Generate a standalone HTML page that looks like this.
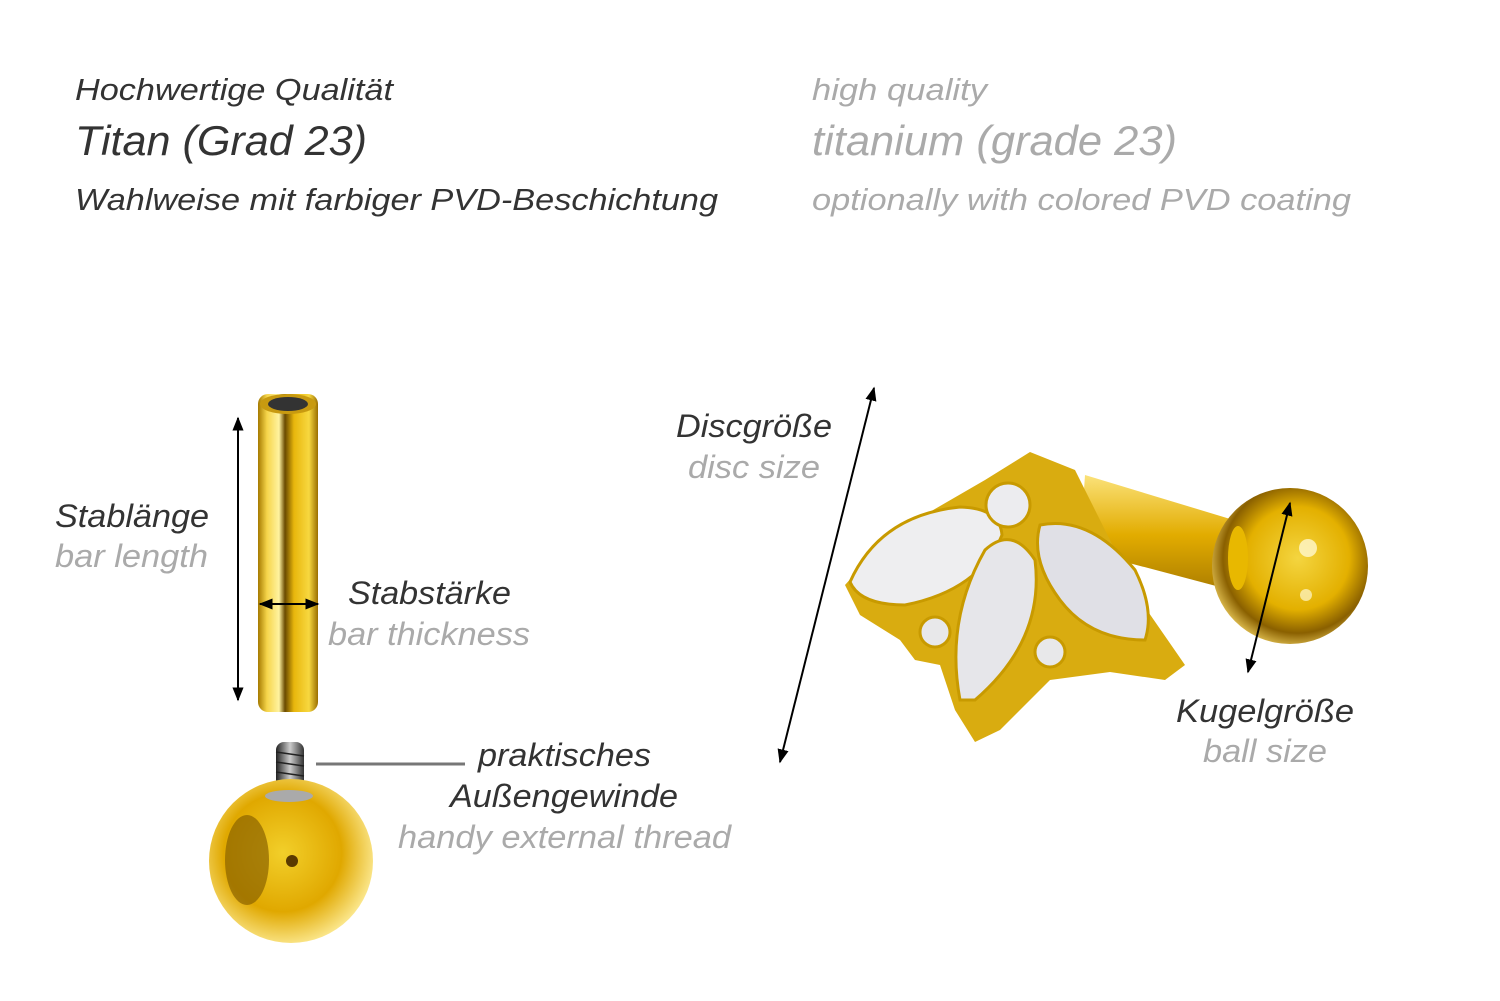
<!DOCTYPE html>
<html><head><meta charset="utf-8"><style>
html,body{margin:0;padding:0;background:#fff;}
svg{display:block;}
text{font-family:"Liberation Sans",sans-serif;font-style:italic;}
</style></head><body>
<svg width="1500" height="1001" viewBox="0 0 1500 1001" xmlns="http://www.w3.org/2000/svg">
<defs>
<linearGradient id="bar" x1="0" x2="1" y1="0" y2="0">
<stop offset="0" stop-color="#a57a00"/><stop offset="0.15" stop-color="#f6d54a"/><stop offset="0.35" stop-color="#fff3a0"/><stop offset="0.45" stop-color="#6a4a00"/><stop offset="0.6" stop-color="#e8b60c"/><stop offset="0.85" stop-color="#f7d840"/><stop offset="1" stop-color="#9a6e00"/>
</linearGradient>
<radialGradient id="ball" cx="0.45" cy="0.45" r="0.6">
<stop offset="0" stop-color="#f2cf2a"/><stop offset="0.6" stop-color="#e0a800"/><stop offset="1" stop-color="#fff0a0"/>
</radialGradient>
<radialGradient id="ball2" cx="0.55" cy="0.45" r="0.6">
<stop offset="0" stop-color="#f4d540"/><stop offset="0.55" stop-color="#e3b000"/><stop offset="0.8" stop-color="#8a6000"/><stop offset="1" stop-color="#f0d060"/>
</radialGradient>
<linearGradient id="post" x1="0" x2="0" y1="0" y2="1">
<stop offset="0" stop-color="#fbe27a"/><stop offset="0.5" stop-color="#e2ac00"/><stop offset="1" stop-color="#a87a00"/>
</linearGradient>
<linearGradient id="thr" x1="0" x2="1"><stop offset="0" stop-color="#222"/><stop offset="0.5" stop-color="#ccc"/><stop offset="1" stop-color="#333"/></linearGradient>
<marker id="ah" viewBox="0 0 10 10" refX="9" refY="5" markerWidth="7" markerHeight="7" orient="auto-start-reverse"><path d="M0,1 L10,5 L0,9 z" fill="#000"/></marker>
</defs>

<g lengthAdjust="spacingAndGlyphs">
<text x="75" y="100" font-size="31" fill="#333" textLength="318" lengthAdjust="spacingAndGlyphs">Hochwertige Qualität</text>
<text x="75" y="155" font-size="42" fill="#333" textLength="292" lengthAdjust="spacingAndGlyphs">Titan (Grad 23)</text>
<text x="75" y="210" font-size="31" fill="#333" textLength="643" lengthAdjust="spacingAndGlyphs">Wahlweise mit farbiger PVD-Beschichtung</text>
<text x="812" y="100" font-size="31" fill="#aaa" textLength="175" lengthAdjust="spacingAndGlyphs">high quality</text>
<text x="812" y="155" font-size="42" fill="#aaa" textLength="365" lengthAdjust="spacingAndGlyphs">titanium (grade 23)</text>
<text x="812" y="210" font-size="31" fill="#aaa" textLength="539" lengthAdjust="spacingAndGlyphs">optionally with colored PVD coating</text>
</g>

<!-- bar -->
<rect x="258" y="394" width="60" height="318" rx="10" fill="url(#bar)"/>
<ellipse cx="288" cy="404" rx="28" ry="10" fill="#c89a10"/>
<ellipse cx="288" cy="404" rx="20" ry="7" fill="#333"/>
<line x1="238" y1="418" x2="238" y2="700" stroke="#000" stroke-width="2" marker-start="url(#ah)" marker-end="url(#ah)"/>
<line x1="260" y1="604" x2="318" y2="604" stroke="#000" stroke-width="2" marker-start="url(#ah)" marker-end="url(#ah)"/>
<text x="55" y="527" font-size="32" fill="#333" textLength="154" lengthAdjust="spacingAndGlyphs">Stablänge</text>
<text x="55" y="567" font-size="32" fill="#aaa" textLength="153" lengthAdjust="spacingAndGlyphs">bar length</text>
<text x="348" y="604" font-size="32" fill="#333" textLength="163" lengthAdjust="spacingAndGlyphs">Stabstärke</text>
<text x="328" y="645" font-size="32" fill="#aaa" textLength="202" lengthAdjust="spacingAndGlyphs">bar thickness</text>

<!-- ball with thread -->
<rect x="276" y="742" width="28" height="58" rx="8" fill="url(#thr)"/>
<g stroke="#222" stroke-width="1.5"><line x1="276" y1="752" x2="304" y2="756"/><line x1="276" y1="762" x2="304" y2="766"/><line x1="276" y1="772" x2="304" y2="776"/><line x1="276" y1="782" x2="304" y2="786"/><line x1="276" y1="792" x2="304" y2="796"/></g>
<circle cx="291" cy="861" r="82" fill="url(#ball)"/>
<ellipse cx="247" cy="860" rx="22" ry="45" fill="#8a6200" opacity="0.7"/>
<circle cx="292" cy="861" r="6" fill="#5a3a00"/>
<ellipse cx="289" cy="796" rx="24" ry="6" fill="#aaa"/>
<line x1="316" y1="764" x2="465" y2="764" stroke="#777" stroke-width="3"/>
<text x="478" y="766" font-size="32" fill="#333" textLength="173" lengthAdjust="spacingAndGlyphs">praktisches</text>
<text x="450" y="807" font-size="32" fill="#333" textLength="228" lengthAdjust="spacingAndGlyphs">Außengewinde</text>
<text x="398" y="848" font-size="32" fill="#aaa" textLength="333" lengthAdjust="spacingAndGlyphs">handy external thread</text>

<!-- right jewel -->
<path d="M1085,475 L1250,525 L1250,595 L1080,550 z" fill="url(#post)"/>
<circle cx="1290" cy="566" r="78" fill="url(#ball2)"/>
<ellipse cx="1238" cy="558" rx="10" ry="32" fill="#e8b800"/>
<circle cx="1308" cy="548" r="9" fill="#fff8d0" opacity="0.8"/>
<circle cx="1306" cy="595" r="6" fill="#fff8d0" opacity="0.7"/>
<path d="M1030,452 L1075,470 L1100,520 L1140,600 L1185,665 L1165,680 L1110,672 L1050,680 L1000,730 L975,742 L955,710 L940,665 L915,660 L900,640 L860,615 L845,585 L890,535 L985,480 z" fill="#d9ac10"/>
<path d="M850,582 Q880,515 960,507 Q1000,508 1002,535 Q980,590 905,605 Q860,605 850,582 z" fill="#eeeef0" stroke="#c89a00" stroke-width="3"/>
<path d="M960,700 Q945,620 985,550 Q1012,525 1035,560 Q1045,640 975,700 z" fill="#e6e6ea" stroke="#c89a00" stroke-width="3"/>
<path d="M1040,525 Q1090,515 1135,570 Q1155,610 1145,640 Q1090,640 1060,600 Q1030,560 1040,525 z" fill="#e0e0e6" stroke="#c89a00" stroke-width="3"/>
<circle cx="1008" cy="505" r="22" fill="#ececef" stroke="#c89a00" stroke-width="3"/>
<circle cx="935" cy="632" r="15" fill="#e8e8ea" stroke="#c89a00" stroke-width="3"/>
<circle cx="1050" cy="652" r="15" fill="#e8e8ea" stroke="#c89a00" stroke-width="3"/>
<line x1="780" y1="762" x2="874" y2="388" stroke="#000" stroke-width="2" marker-start="url(#ah)" marker-end="url(#ah)"/>
<line x1="1248" y1="672" x2="1290" y2="503" stroke="#000" stroke-width="2" marker-start="url(#ah)" marker-end="url(#ah)"/>
<text x="676" y="437" font-size="32" fill="#333" textLength="156" lengthAdjust="spacingAndGlyphs">Discgröße</text>
<text x="688" y="478" font-size="32" fill="#aaa" textLength="132" lengthAdjust="spacingAndGlyphs">disc size</text>
<text x="1176" y="722" font-size="32" fill="#333" textLength="178" lengthAdjust="spacingAndGlyphs">Kugelgröße</text>
<text x="1203" y="762" font-size="32" fill="#aaa" textLength="124" lengthAdjust="spacingAndGlyphs">ball size</text>
</svg>
</body></html>
